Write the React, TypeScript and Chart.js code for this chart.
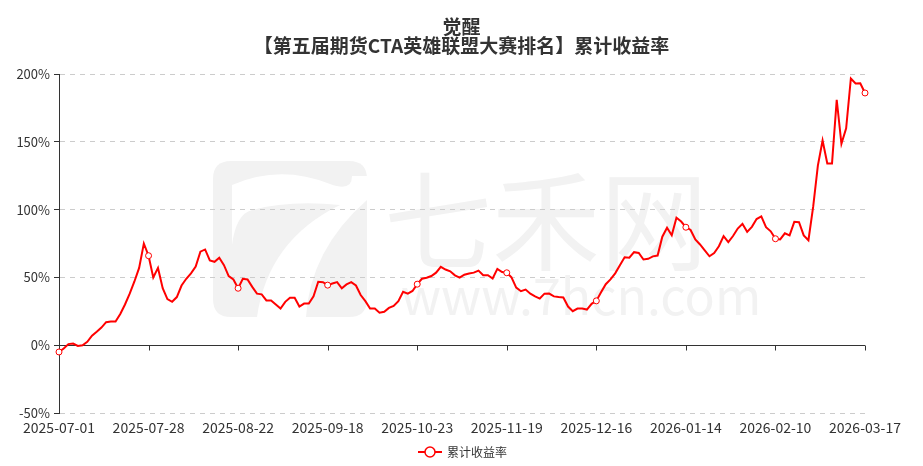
import React, { useEffect, useRef } from "react";
import { Chart, registerables } from "chart.js";

Chart.register(...registerables);

const TITLE_LINES = ["觉醒", "【第五届期货CTA英雄联盟大赛排名】累计收益率"];
const SERIES_NAME = "累计收益率";
const START_DATE = "2025-07-01";
const END_DATE = "2026-03-17";
const HOLIDAYS = [
  "2025-10-01", "2025-10-02", "2025-10-03", "2025-10-06", "2025-10-07", "2025-10-08",
  "2026-01-01", "2026-01-02",
  "2026-02-16", "2026-02-17", "2026-02-18", "2026-02-19", "2026-02-20", "2026-02-23",
];
const LABEL_EVERY = 19;
const Y_MIN = -50;
const Y_MAX = 200;
const Y_STEP = 50;

// cumulative return (%), by period
const returnsJulAug = [
  -5, -2.5, 0.8, 1.2, -0.5, 0, 2.5, 7, 9.9, 13, 17, 17.5, 17.5, 23, 30, 38, 47, 57, 75, 66,
  50, 57, 42, 34, 32, 35.5, 44, 49, 53, 58, 69, 70.6, 62.5, 61.5, 64.5, 59, 51, 48.5, 42,
];
const returnsSepOct = [
  49, 48.5, 43, 38, 37.5, 33, 33, 30, 27, 32, 35, 35, 28.5, 30.7, 30.8, 36, 46.8, 46.5, 44.3,
  45.5, 46.5, 42, 44.8, 46.5, 44, 37, 32.5, 27, 27, 24, 24.6, 27.5, 29, 32.5, 39.4, 38, 40, 45,
];
const returnsOctDec = [
  49, 49.7, 51, 53.5, 57.8, 55.8, 54.5, 51.5, 49.8, 52, 52.9, 53.5, 55, 51.6, 51.6, 49.2, 56.3, 54, 53.4,
  50, 42.5, 39.8, 41, 38, 36, 34.4, 38, 38.1, 36, 35.5, 35.2, 28.5, 25.1, 27, 27, 26.3, 30.5, 32.7,
];
const returnsDecFeb = [
  39, 45, 48.5, 53, 59, 64.9, 64.5, 68.6, 68, 63.2, 63.7, 65.5, 66.1, 80, 86.6, 81, 94, 91.2, 87,
  85, 78, 74.3, 70, 65.6, 68, 73, 80.4, 76, 80.5, 86, 89.5, 83.6, 87.3, 93, 95, 87, 84, 78.5,
];
const returnsFebMar = [
  78, 82.5, 81, 91, 90.7, 81, 77.4, 102, 132.5, 151, 134, 134, 181, 148.5, 160, 196.7, 193, 193.2, 186,
];

const VALUES = [...returnsJulAug, ...returnsSepOct, ...returnsOctDec, ...returnsDecFeb, ...returnsFebMar];

function tradingDays(start: string, end: string, holidays: string[]): string[] {
  const out: string[] = [];
  const d = new Date(start + "T00:00:00Z");
  const e = new Date(end + "T00:00:00Z");
  while (d.getTime() <= e.getTime()) {
    const s = d.toISOString().slice(0, 10);
    const wd = d.getUTCDay();
    if (wd !== 0 && wd !== 6 && !holidays.includes(s)) out.push(s);
    d.setUTCDate(d.getUTCDate() + 1);
  }
  return out;
}

const CATEGORIES = tradingDays(START_DATE, END_DATE, HOLIDAYS);

const FONT = "'Noto Sans CJK SC', 'Noto Sans', sans-serif";
const LINE_COLOR = "#ff0000";
const TEXT_COLOR = "#333333";
const WM_COLOR = "#f2f2f2";

const decorPlugin = {
  id: "decor",
  beforeDraw(chart: any) {
    const ctx = chart.ctx;
    ctx.save();
    // watermark logo
    ctx.fillStyle = WM_COLOR;
    ctx.beginPath();
    const rx = 213, ry = 161, rw = 154, rh = 156, r = 18;
    ctx.moveTo(rx + r, ry);
    ctx.lineTo(rx + rw - r, ry);
    ctx.quadraticCurveTo(rx + rw, ry, rx + rw, ry + r);
    ctx.lineTo(rx + rw, ry + rh - r);
    ctx.quadraticCurveTo(rx + rw, ry + rh, rx + rw - r, ry + rh);
    ctx.lineTo(rx + r, ry + rh);
    ctx.quadraticCurveTo(rx, ry + rh, rx, ry + rh - r);
    ctx.lineTo(rx, ry + r);
    ctx.quadraticCurveTo(rx, ry, rx + r, ry);
    ctx.fill();
    ctx.fillStyle = "#ffffff";
    ctx.beginPath();
    ctx.moveTo(232, 185);
    ctx.quadraticCurveTo(280, 164, 330, 184);
    ctx.quadraticCurveTo(352, 192, 352, 176);
    ctx.lineTo(367, 176);
    ctx.lineTo(367, 200);
    ctx.quadraticCurveTo(310, 250, 306, 317);
    ctx.lineTo(257, 317);
    ctx.quadraticCurveTo(268, 240, 340, 205);
    ctx.quadraticCurveTo(290, 200, 252, 210);
    ctx.quadraticCurveTo(236, 214, 232, 245);
    ctx.closePath();
    ctx.fill();
    // watermark text
    ctx.fillStyle = WM_COLOR;
    ctx.font = `108px ${FONT}`;
    ctx.textBaseline = "alphabetic";
    ctx.textAlign = "left";
    ctx.fillText("七禾网", 384, 262);
    ctx.font = `50px ${FONT}`;
    ctx.fillText("www.7hcn.com", 401, 315);
    ctx.restore();
  },
  beforeDatasetsDraw(chart: any) {
    const ctx = chart.ctx;
    const { left, right } = chart.chartArea;
    const y0 = Math.round(chart.scales.y.getPixelForValue(0)) + 0.5;
    ctx.save();
    ctx.strokeStyle = TEXT_COLOR;
    ctx.lineWidth = 1;
    ctx.beginPath();
    ctx.moveTo(left, y0);
    ctx.lineTo(right, y0);
    for (let i = 0; i < CATEGORIES.length; i += LABEL_EVERY) {
      const x = Math.round(chart.scales.x.getPixelForValue(i)) + 0.5;
      ctx.moveTo(x, y0);
      ctx.lineTo(x, y0 + 5);
    }
    ctx.stroke();
    ctx.restore();
  },
  afterDraw(chart: any) {
    const ctx = chart.ctx;
    const cx = chart.width / 2;
    ctx.save();
    ctx.fillStyle = TEXT_COLOR;
    ctx.textAlign = "center";
    ctx.textBaseline = "middle";
    ctx.font = `bold 19px ${FONT}`;
    ctx.fillText(TITLE_LINES[0], cx, 27);
    ctx.fillText(TITLE_LINES[1], cx, 46);
    // legend
    const ly = 452;
    const lx = 430;
    ctx.strokeStyle = LINE_COLOR;
    ctx.lineWidth = 2;
    ctx.beginPath();
    ctx.moveTo(lx - 12, ly);
    ctx.lineTo(lx + 12, ly);
    ctx.stroke();
    ctx.beginPath();
    ctx.arc(lx, ly, 5, 0, Math.PI * 2);
    ctx.fillStyle = "#ffffff";
    ctx.fill();
    ctx.lineWidth = 1.5;
    ctx.stroke();
    ctx.fillStyle = TEXT_COLOR;
    ctx.textAlign = "left";
    ctx.font = `12px ${FONT}`;
    ctx.fillText(SERIES_NAME, lx + 17, ly);
    ctx.restore();
  },
};

export default function App() {
  const ref = useRef<HTMLCanvasElement | null>(null);
  useEffect(() => {
    if (!ref.current) return;
    const chart = new Chart(ref.current, {
      type: "line",
      data: {
        labels: CATEGORIES,
        datasets: [
          {
            label: SERIES_NAME,
            data: VALUES,
            borderColor: LINE_COLOR,
            backgroundColor: "#ffffff",
            borderWidth: 2,
            tension: 0,
            pointRadius: (c: any) => (c.dataIndex % LABEL_EVERY === 0 ? 3 : 0),
            pointHoverRadius: 0,
            pointBackgroundColor: "#ffffff",
            pointBorderColor: LINE_COLOR,
            pointBorderWidth: 1,
          },
        ],
      },
      options: {
        responsive: false,
        animation: false,
        events: [],
        layout: { padding: { left: 8, right: 58, top: 74, bottom: 0 } },
        plugins: {
          legend: { display: false },
          title: { display: false },
          tooltip: { enabled: false },
        },
        scales: {
          x: {
            type: "category",
            grid: { display: false, drawTicks: false },
            border: { display: false },
            ticks: {
              autoSkip: false,
              maxRotation: 0,
              minRotation: 0,
              padding: 6,
              color: TEXT_COLOR,
              font: { family: FONT, size: 14 },
              callback: (_v: any, i: number) => (i % LABEL_EVERY === 0 ? CATEGORIES[i] : null),
            },
            afterFit: (s: any) => {
              s.height = 53;
            },
          },
          y: {
            min: Y_MIN,
            max: Y_MAX,
            grid: {
              color: "#cccccc",
              drawTicks: true,
              tickLength: 5,
              tickColor: TEXT_COLOR,
              tickBorderDash: [],
            } as any,
            border: { display: true, color: TEXT_COLOR, width: 1, dash: [5, 5] } as any,
            ticks: {
              stepSize: Y_STEP,
              padding: 4,
              color: TEXT_COLOR,
              font: { family: FONT, size: 13 },
              callback: (v: any) => `${v}%`,
            },
            afterFit: (s: any) => {
              s.width = 51;
            },
          },
        },
      },
      plugins: [decorPlugin],
    } as any);
    return () => chart.destroy();
  }, []);
  return (
    <div style={{ position: "fixed", left: 0, top: 0, width: 923, height: 466, background: "#fff" }}>
      <canvas ref={ref} width={923} height={466} style={{ width: 923, height: 466 }} />
    </div>
  );
}
